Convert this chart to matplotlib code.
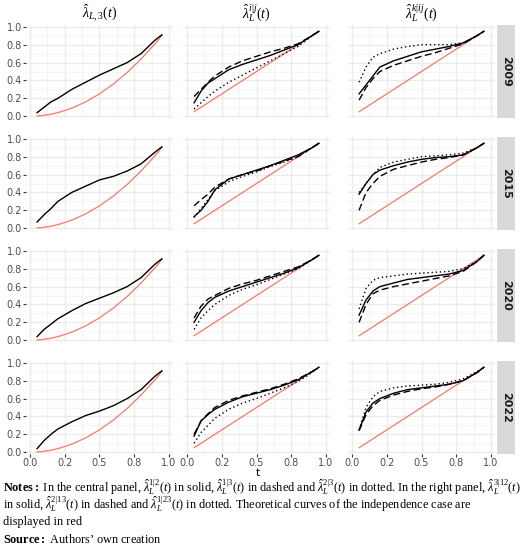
import matplotlib
matplotlib.use("Agg")
import matplotlib.pyplot as plt

plt.rcParams['mathtext.fontset'] = 'custom'
plt.rcParams['mathtext.rm'] = 'Liberation Serif'
plt.rcParams['mathtext.it'] = 'Liberation Serif:italic'
plt.rcParams['mathtext.bf'] = 'Liberation Serif:bold'

years = ["2009", "2015", "2020", "2022"]
t = [0.05, 0.1, 0.15, 0.2, 0.3, 0.4, 0.5, 0.6, 0.7, 0.8, 0.9, 0.95]

# theoretical curves (independence case)
red_left = [0.0025, 0.01, 0.0225, 0.04, 0.09, 0.16, 0.25, 0.36, 0.49, 0.64, 0.81, 0.9025]
red_diag = [0.05, 0.1, 0.15, 0.2, 0.3, 0.4, 0.5, 0.6, 0.7, 0.8, 0.9, 0.95]

left = {
    "2009": [0.04, 0.1, 0.16, 0.2, 0.3, 0.38, 0.46, 0.53, 0.6, 0.7, 0.85, 0.91],
    "2015": [0.07, 0.15, 0.22, 0.3, 0.4, 0.47, 0.54, 0.58, 0.64, 0.72, 0.85, 0.91],
    "2020": [0.04, 0.12, 0.18, 0.24, 0.33, 0.41, 0.47, 0.53, 0.6, 0.7, 0.85, 0.91],
    "2022": [0.04, 0.13, 0.2, 0.26, 0.34, 0.41, 0.46, 0.52, 0.6, 0.7, 0.85, 0.91],
}

mid_solid = {
    "2009": [0.15, 0.28, 0.37, 0.42, 0.52, 0.58, 0.63, 0.68, 0.74, 0.8, 0.9, 0.95],
    "2015": [0.13, 0.2, 0.3, 0.43, 0.55, 0.6, 0.65, 0.7, 0.76, 0.82, 0.9, 0.95],
    "2020": [0.2, 0.33, 0.42, 0.48, 0.55, 0.6, 0.65, 0.7, 0.75, 0.81, 0.9, 0.95],
    "2022": [0.18, 0.35, 0.42, 0.48, 0.56, 0.62, 0.66, 0.7, 0.75, 0.81, 0.9, 0.95],
}
mid_dashed = {
    "2009": [0.22, 0.3, 0.38, 0.45, 0.55, 0.62, 0.67, 0.72, 0.76, 0.81, 0.9, 0.95],
    "2015": [0.25, 0.32, 0.38, 0.46, 0.55, 0.6, 0.64, 0.7, 0.75, 0.8, 0.9, 0.95],
    "2020": [0.25, 0.38, 0.46, 0.5, 0.58, 0.63, 0.67, 0.72, 0.77, 0.82, 0.9, 0.95],
    "2022": [0.2, 0.35, 0.43, 0.5, 0.58, 0.63, 0.67, 0.71, 0.76, 0.82, 0.9, 0.95],
}
mid_dotted = {
    "2009": [0.08, 0.15, 0.22, 0.28, 0.38, 0.46, 0.54, 0.62, 0.7, 0.78, 0.9, 0.95],
    "2015": [0.12, 0.22, 0.32, 0.42, 0.52, 0.58, 0.63, 0.69, 0.74, 0.8, 0.9, 0.95],
    "2020": [0.12, 0.25, 0.33, 0.4, 0.5, 0.57, 0.62, 0.68, 0.74, 0.8, 0.9, 0.95],
    "2022": [0.1, 0.22, 0.3, 0.38, 0.48, 0.55, 0.6, 0.66, 0.72, 0.79, 0.89, 0.95],
}

right_solid = {
    "2009": [0.25, 0.35, 0.45, 0.55, 0.62, 0.67, 0.72, 0.75, 0.78, 0.82, 0.9, 0.95],
    "2015": [0.38, 0.5, 0.6, 0.65, 0.7, 0.74, 0.77, 0.79, 0.8, 0.82, 0.9, 0.95],
    "2020": [0.28, 0.45, 0.55, 0.6, 0.64, 0.68, 0.7, 0.72, 0.74, 0.78, 0.88, 0.95],
    "2022": [0.25, 0.45, 0.55, 0.6, 0.66, 0.7, 0.72, 0.74, 0.76, 0.8, 0.89, 0.95],
}
right_dashed = {
    "2009": [0.18, 0.32, 0.42, 0.5, 0.57, 0.62, 0.67, 0.71, 0.76, 0.81, 0.9, 0.95],
    "2015": [0.2, 0.4, 0.5, 0.58, 0.66, 0.7, 0.74, 0.77, 0.79, 0.82, 0.9, 0.95],
    "2020": [0.2, 0.4, 0.52, 0.56, 0.6, 0.63, 0.66, 0.69, 0.72, 0.77, 0.88, 0.95],
    "2022": [0.24, 0.42, 0.52, 0.58, 0.64, 0.68, 0.71, 0.73, 0.76, 0.8, 0.89, 0.95],
}
right_dotted = {
    "2009": [0.38, 0.55, 0.66, 0.7, 0.75, 0.78, 0.8, 0.8, 0.8, 0.82, 0.9, 0.95],
    "2015": [0.4, 0.5, 0.6, 0.68, 0.74, 0.77, 0.8, 0.81, 0.82, 0.84, 0.9, 0.95],
    "2020": [0.35, 0.58, 0.67, 0.7, 0.72, 0.74, 0.75, 0.76, 0.77, 0.8, 0.88, 0.95],
    "2022": [0.25, 0.5, 0.62, 0.68, 0.72, 0.74, 0.75, 0.76, 0.78, 0.82, 0.9, 0.95],
}

col_titles = [r"$\hat{\lambda}_{L,3}(t)$", r"$\hat{\lambda}_L^{i|j}(t)$", r"$\hat{\lambda}_L^{k|ij}(t)$"]
xticks = [0, 0.25, 0.5, 0.75, 1.0]
xticklabels = ["0.0", "0.2", "0.5", "0.8", "1.0"]
yticks = [0, 0.2, 0.4, 0.6, 0.8, 1.0]

fig = plt.figure(figsize=(5.2, 5.51), dpi=100)
red = "#F8766D"
col_x = [26, 183, 348]
pw = 147
strip_w = 18
row_y = [25, 137, 249, 361]
ph = 93
W, H = 520, 551

for r, yr in enumerate(years):
    for c in range(3):
        ax = fig.add_axes([col_x[c] / W, 1 - (row_y[r] + ph) / H, pw / W, ph / H])
        ax.set_facecolor("white")
        ax.set_xlim(-0.03, 1.03)
        ax.set_ylim(-0.02, 1.02)
        ax.set_xticks(xticks)
        ax.set_xticks([0.125, 0.375, 0.625, 0.875], minor=True)
        ax.set_yticks(yticks)
        ax.set_yticks([0.1, 0.3, 0.5, 0.7, 0.9], minor=True)
        ax.grid(True, which="major", color="#EBEBEB", lw=1.0)
        ax.grid(True, which="minor", color="#F2F2F2", lw=0.6)
        ax.set_axisbelow(True)
        for s in ax.spines.values():
            s.set_visible(False)
        ax.tick_params(which="both", length=2, color="#333333", labelsize=7, labelcolor="#4D4D4D", pad=1)
        ax.tick_params(which="minor", length=0)
        if c == 0:
            ax.set_yticklabels([f"{v:.1f}" for v in yticks])
        else:
            ax.tick_params(axis="y", length=0)
            ax.set_yticklabels([])
        if r == 3:
            ax.set_xticklabels(xticklabels)
        else:
            ax.tick_params(axis="x", length=0)
            ax.set_xticklabels([])
        if r == 0:
            ax.set_title(col_titles[c], fontsize=10, pad=5)
        if c == 0:
            ax.plot(t, red_left, color=red, lw=0.9)
            ax.plot(t, left[yr], color="black", lw=1.0)
        else:
            ax.plot(t, red_diag, color=red, lw=0.9)
            s_, d_, o_ = (mid_solid, mid_dashed, mid_dotted) if c == 1 else (right_solid, right_dashed, right_dotted)
            ax.plot(t, s_[yr], color="black", lw=1.0, ls="-")
            ax.plot(t, d_[yr], color="black", lw=1.0, ls=(0, (5, 2.5)))
            ax.plot(t, o_[yr], color="black", lw=1.0, ls=(0, (1, 2)))
        if c == 2:
            sax = fig.add_axes([(col_x[c] + pw + 2) / W, 1 - (row_y[r] + ph) / H, strip_w / W, ph / H])
            sax.set_facecolor("#D9D9D9")
            sax.set_xticks([])
            sax.set_yticks([])
            for s in sax.spines.values():
                s.set_visible(False)
            sax.text(0.5, 0.5, yr, rotation=270, ha="center", va="center", fontsize=8,
                     color="#1A1A1A", fontweight="bold", transform=sax.transAxes)

fig.text(258 / W, 1 - 473 / H, "t", ha="center", va="center", fontsize=8)

sty = dict(fontsize=8.8, family="Liberation Serif", ha="left", va="baseline")
fig.text(3 / W, 1 - 492 / H,
         r"$\mathbf{Notes:}$ In the central panel, $\hat{\lambda}_L^{1|2}(t)$ in solid, $\hat{\lambda}_L^{1|3}(t)$ in dashed and $\hat{\lambda}_L^{2|3}(t)$ in dotted. In the right panel, $\hat{\lambda}_L^{3|12}(t)$",
         **sty)
fig.text(3 / W, 1 - 509 / H,
         r"in solid, $\hat{\lambda}_L^{2|13}(t)$ in dashed and $\hat{\lambda}_L^{1|23}(t)$ in dotted. Theoretical curves of the independence case are",
         **sty)
fig.text(3 / W, 1 - 525 / H, "displayed in red", **sty)
fig.text(3 / W, 1 - 543 / H, r"$\mathbf{Source:}$ Authors’ own creation", **sty)

fig.savefig("out.png", dpi=100)
